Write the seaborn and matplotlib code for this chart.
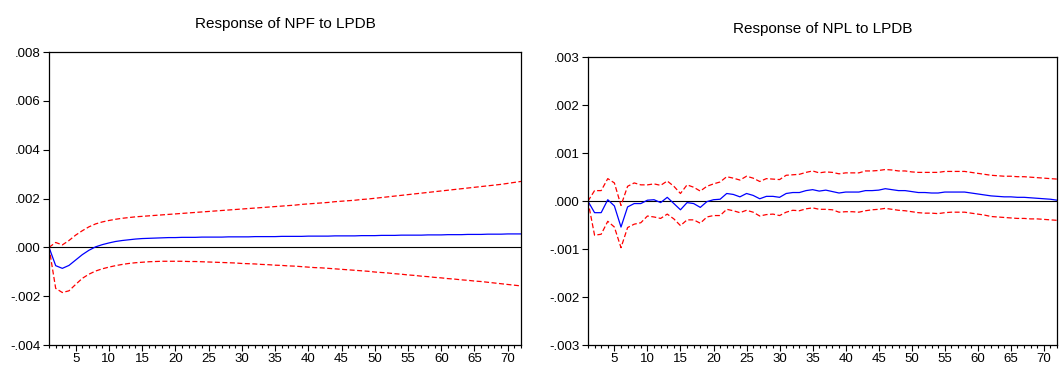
import matplotlib
matplotlib.use("Agg")
import matplotlib.pyplot as plt
import seaborn as sns
import numpy as np
import pandas as pd
from matplotlib.ticker import MultipleLocator, FuncFormatter

# Periods 1..72
periods = list(range(1, 73))

# Response of NPF to LPDB
npf_resp = [0.0, -0.00075, -0.00086, -0.00074, -0.00052, -0.00030, -0.00012, 0.00002, 0.00011, 0.00018,
            0.00024, 0.00028, 0.00031, 0.00034, 0.00036, 0.00037, 0.00038, 0.00039, 0.00040, 0.00040,
            0.00041, 0.00041, 0.00041, 0.00042, 0.00042, 0.00042, 0.00042, 0.00043, 0.00043, 0.00043,
            0.00043, 0.00044, 0.00044, 0.00044, 0.00044, 0.00045, 0.00045, 0.00045, 0.00045, 0.00046,
            0.00046, 0.00046, 0.00046, 0.00047, 0.00047, 0.00047, 0.00047, 0.00048, 0.00048, 0.00048,
            0.00049, 0.00049, 0.00049, 0.00050, 0.00050, 0.00050, 0.00050, 0.00051, 0.00051, 0.00051,
            0.00052, 0.00052, 0.00052, 0.00053, 0.00053, 0.00053, 0.00054, 0.00054, 0.00054, 0.00055,
            0.00055, 0.00055]
npf_upper = [0.0, 0.00020, 0.00010, 0.00028, 0.00050, 0.00068, 0.00084, 0.00096, 0.00104, 0.00110,
             0.00115, 0.00119, 0.00122, 0.00125, 0.00127, 0.00129, 0.00131, 0.00133, 0.00135, 0.00137,
             0.00139, 0.00141, 0.00143, 0.00145, 0.00147, 0.00149, 0.00151, 0.00153, 0.00155, 0.00157,
             0.00159, 0.00161, 0.00163, 0.00165, 0.00167, 0.00169, 0.00171, 0.00173, 0.00176, 0.00178,
             0.00180, 0.00182, 0.00184, 0.00187, 0.00189, 0.00191, 0.00193, 0.00196, 0.00198, 0.00201,
             0.00204, 0.00207, 0.00210, 0.00213, 0.00216, 0.00219, 0.00222, 0.00225, 0.00228, 0.00231,
             0.00234, 0.00237, 0.00240, 0.00243, 0.00246, 0.00249, 0.00252, 0.00255, 0.00258, 0.00262,
             0.00266, 0.00270]
npf_lower = [0.0, -0.00168, -0.00185, -0.00178, -0.00152, -0.00127, -0.00110, -0.00097, -0.00088, -0.00081,
             -0.00075, -0.00070, -0.00066, -0.00063, -0.00061, -0.00059, -0.00058, -0.00057, -0.00057, -0.00057,
             -0.00057, -0.00058, -0.00058, -0.00059, -0.00060, -0.00061, -0.00062, -0.00063, -0.00064, -0.00066,
             -0.00067, -0.00068, -0.00070, -0.00071, -0.00073, -0.00074, -0.00076, -0.00077, -0.00079, -0.00081,
             -0.00083, -0.00084, -0.00086, -0.00088, -0.00090, -0.00092, -0.00094, -0.00096, -0.00098, -0.00101,
             -0.00103, -0.00105, -0.00108, -0.00110, -0.00113, -0.00115, -0.00118, -0.00120, -0.00123, -0.00125,
             -0.00128, -0.00130, -0.00133, -0.00135, -0.00138, -0.00140, -0.00143, -0.00146, -0.00149, -0.00152,
             -0.00155, -0.00158]

# Response of NPL to LPDB
npl_resp = [0.0, -0.00024, -0.00024, 0.00003, -0.00010, -0.00054, -0.00012, -0.00005, -0.00005, 0.00002,
            0.00003, -0.00003, 0.00008, -0.00005, -0.00018, -0.00003, -0.00005, -0.00013, -0.00001, 0.00003,
            0.00004, 0.00016, 0.00014, 0.00009, 0.00016, 0.00012, 0.00005, 0.00010, 0.00010, 0.00008,
            0.00016, 0.00018, 0.00018, 0.00022, 0.00024, 0.00021, 0.00023, 0.00020, 0.00017, 0.00019,
            0.00019, 0.00019, 0.00022, 0.00022, 0.00023, 0.00026, 0.00024, 0.00022, 0.00022, 0.00020,
            0.00018, 0.00018, 0.00017, 0.00017, 0.00019, 0.00019, 0.00019, 0.00019, 0.00017, 0.00015,
            0.00013, 0.00011, 0.00010, 0.00009, 0.00009, 0.00008, 0.00008, 0.00007, 0.00006, 0.00005,
            0.00004, 0.00002]
npl_upper = [0.0, 0.00022, 0.00022, 0.00047, 0.00038, -0.00009, 0.00031, 0.00038, 0.00034, 0.00034,
             0.00036, 0.00033, 0.00042, 0.00031, 0.00016, 0.00034, 0.00029, 0.00021, 0.00031, 0.00036,
             0.00040, 0.00051, 0.00048, 0.00044, 0.00052, 0.00048, 0.00041, 0.00047, 0.00046, 0.00045,
             0.00054, 0.00055, 0.00056, 0.00060, 0.00063, 0.00059, 0.00061, 0.00060, 0.00057, 0.00059,
             0.00059, 0.00059, 0.00063, 0.00063, 0.00064, 0.00066, 0.00065, 0.00063, 0.00063, 0.00061,
             0.00060, 0.00060, 0.00060, 0.00060, 0.00062, 0.00062, 0.00062, 0.00062, 0.00060, 0.00058,
             0.00056, 0.00054, 0.00053, 0.00052, 0.00052, 0.00051, 0.00051, 0.00050, 0.00049, 0.00048,
             0.00047, 0.00046]
npl_lower = [0.0, -0.00071, -0.00069, -0.00042, -0.00054, -0.00097, -0.00055, -0.00048, -0.00045, -0.00031,
             -0.00033, -0.00036, -0.00027, -0.00037, -0.00051, -0.00039, -0.00039, -0.00046, -0.00033, -0.00030,
             -0.00030, -0.00017, -0.00020, -0.00024, -0.00019, -0.00023, -0.00031, -0.00028, -0.00027, -0.00030,
             -0.00023, -0.00019, -0.00020, -0.00016, -0.00014, -0.00017, -0.00017, -0.00018, -0.00023, -0.00022,
             -0.00022, -0.00023, -0.00020, -0.00018, -0.00017, -0.00015, -0.00017, -0.00019, -0.00020, -0.00022,
             -0.00024, -0.00025, -0.00025, -0.00026, -0.00024, -0.00023, -0.00023, -0.00023, -0.00025, -0.00027,
             -0.00029, -0.00032, -0.00033, -0.00034, -0.00035, -0.00036, -0.00036, -0.00037, -0.00037, -0.00038,
             -0.00039, -0.00040]

sns.set_style("ticks", {"text.color": "black", "xtick.color": "black", "ytick.color": "black"})
plt.rcParams['font.family'] = ['Liberation Sans', 'DejaVu Sans']

fig = plt.figure(figsize=(10.59, 3.69), dpi=100)
ax1 = fig.add_axes([0.0463, 0.065, 0.4457, 0.794])
ax2 = fig.add_axes([0.5552, 0.065, 0.4430, 0.7797])


def dot_fmt(v, pos):
    # EViews style: .002 / -.002
    s = "%.3f" % v
    if s.startswith("-0"):
        return "-" + s[2:]
    if s.startswith("0"):
        return s[1:]
    return s


def draw_panel(ax, resp, upper, lower, title, ylim, ystep):
    df = pd.DataFrame({"period": periods, "resp": resp, "upper": upper, "lower": lower})
    ax.axhline(0, color="black", lw=0.8, zorder=1)
    sns.lineplot(data=df, x="period", y="upper", ax=ax, color="red", lw=0.9,
                 linestyle=(0, (4, 2)))
    sns.lineplot(data=df, x="period", y="lower", ax=ax, color="red", lw=0.9,
                 linestyle=(0, (4, 2)))
    sns.lineplot(data=df, x="period", y="resp", ax=ax, color="blue", lw=0.9)
    ax.set_xlim(1, 72)
    ax.set_ylim(*ylim)
    ax.xaxis.set_major_locator(MultipleLocator(5))
    ax.xaxis.set_minor_locator(MultipleLocator(1))
    ax.yaxis.set_major_locator(MultipleLocator(ystep))
    ax.yaxis.set_major_formatter(FuncFormatter(dot_fmt))
    ax.tick_params(axis="x", which="major", length=4, width=0.8, labelsize=9.5, pad=2)
    ax.tick_params(axis="x", which="minor", length=2.5, width=0.8)
    ax.tick_params(axis="y", which="major", length=4, width=0.8, labelsize=9.5, pad=2)
    ax.set_xlabel("")
    ax.set_ylabel("")
    for s in ax.spines.values():
        s.set_linewidth(0.9)
        s.set_color("black")
    ax.set_title(title, fontsize=11, pad=17.5, color="black")


draw_panel(ax1, npf_resp, npf_upper, npf_lower, "Response of NPF to LPDB", (-0.004, 0.008), 0.002)
draw_panel(ax2, npl_resp, npl_upper, npl_lower, "Response of NPL to LPDB", (-0.003, 0.003), 0.001)

plt.savefig("out.png", dpi=100)
